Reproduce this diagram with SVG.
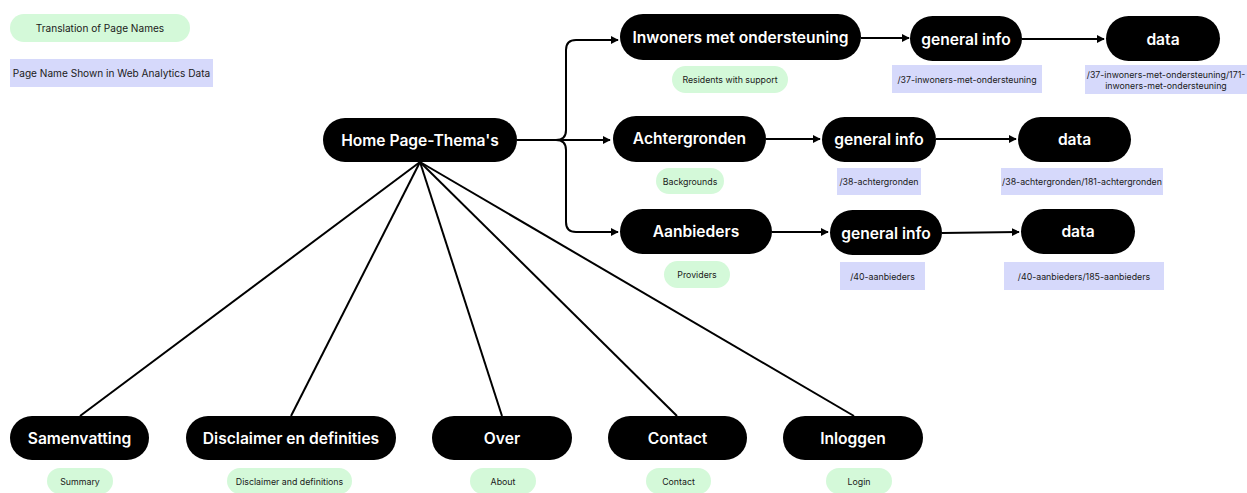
<svg xmlns="http://www.w3.org/2000/svg" width="1247" height="493" viewBox="0 0 1247 493">
<style>
.n rect{fill:#000}
.n text{fill:#fff;font-family:Inter,"DejaVu Sans",sans-serif;font-weight:600;font-size:15.6px;text-anchor:middle;dominant-baseline:central}
.g{fill:#d4f9d9}
.p{fill:#d6d9fb}
.s{fill:#1a1a1a;font-family:Inter,"DejaVu Sans",sans-serif;font-size:8.8px;text-anchor:middle;dominant-baseline:central}
.l{font-size:10.1px}
.c path,.c line{stroke:#000;stroke-width:2;fill:none}
</style>
<defs>
<marker id="a" viewBox="0 0 10 10" refX="9" refY="5" markerWidth="4" markerHeight="4" orient="auto" markerUnits="strokeWidth">
<path d="M0,0 L10,5 L0,10 z" fill="#000"/>
</marker>
</defs>
<rect width="1247" height="493" fill="#fff"/>
<g id="legend">
<rect class="g" x="10" y="14" width="180" height="28" rx="14"/>
<text class="s l" x="100" y="28">Translation of Page Names</text>
<rect class="p" x="10" y="59" width="203" height="28"/>
<text class="s l" x="111.5" y="73">Page Name Shown in Web Analytics Data</text>
</g>
<g class="c" id="connectors">
<path d="M517,140 H556 Q566,140 566,130 V50 Q566,40 576,40 H618" marker-end="url(#a)"/>
<path d="M517,140 H610" marker-end="url(#a)"/>
<path d="M556,140 Q566,140 566,150 V222 Q566,232 576,232 H618" marker-end="url(#a)"/>
<path d="M861,38 H909" marker-end="url(#a)"/>
<path d="M1022,39 H1104" marker-end="url(#a)"/>
<path d="M766,139 H820" marker-end="url(#a)"/>
<path d="M936,139 H1016" marker-end="url(#a)"/>
<path d="M772,232 H828" marker-end="url(#a)"/>
<path d="M942,233 L1019,232" marker-end="url(#a)"/>
<line x1="420" y1="162" x2="80" y2="416"/>
<line x1="420" y1="162" x2="291" y2="416"/>
<line x1="420" y1="162" x2="502" y2="416"/>
<line x1="420" y1="162" x2="677" y2="416"/>
<line x1="420" y1="162" x2="854" y2="416"/>
</g>
<g id="home" class="n"><rect x="323" y="118" width="194" height="44" rx="22"/><text x="420" y="140">Home Page-Thema's</text></g>
<g id="inwoners" class="n"><rect x="620" y="14" width="241" height="46" rx="23"/><text x="740.5" y="37">Inwoners met ondersteuning</text></g>
<g id="inwoners-label"><rect class="g" x="672" y="66" width="116" height="27" rx="13.5"/><text class="s" x="730" y="79.5">Residents with support</text></g>
<g id="inwoners-info" class="n"><rect x="910" y="16" width="112" height="45" rx="22.5"/><text x="966" y="39">general info</text></g>
<g id="inwoners-info-label"><rect class="p" x="892" y="65" width="150" height="28"/><text class="s" x="967" y="79">/37-inwoners-met-ondersteuning</text></g>
<g id="inwoners-data" class="n"><rect x="1106" y="16" width="114" height="45" rx="22.5"/><text x="1163" y="39">data</text></g>
<g id="inwoners-data-label"><rect class="p" x="1085" y="65" width="162" height="29"/><text class="s" x="1166" y="74">/37-inwoners-met-ondersteuning/171-</text><text class="s" x="1166" y="85">inwoners-met-ondersteuning</text></g>
<g id="achter" class="n"><rect x="613" y="116" width="153" height="46" rx="23"/><text x="689.5" y="138">Achtergronden</text></g>
<g id="achter-label"><rect class="g" x="656" y="168" width="68" height="26" rx="13"/><text class="s" x="690" y="181">Backgrounds</text></g>
<g id="achter-info" class="n"><rect x="822" y="117" width="114" height="45" rx="22.5"/><text x="879" y="139">general info</text></g>
<g id="achter-info-label"><rect class="p" x="837" y="168" width="84" height="27"/><text class="s" x="879" y="181.5">/38-achtergronden</text></g>
<g id="achter-data" class="n"><rect x="1018" y="117" width="113" height="45" rx="22.5"/><text x="1074.5" y="139">data</text></g>
<g id="achter-data-label"><rect class="p" x="1001" y="168" width="162" height="27"/><text class="s" x="1082" y="181.5">/38-achtergronden/181-achtergronden</text></g>
<g id="aanb" class="n"><rect x="620" y="209" width="152" height="45" rx="22.5"/><text x="696" y="231">Aanbieders</text></g>
<g id="aanb-label"><rect class="g" x="664" y="261" width="66" height="27" rx="13.5"/><text class="s" x="697" y="274.5">Providers</text></g>
<g id="aanb-info" class="n"><rect x="830" y="210" width="112" height="45" rx="22.5"/><text x="886" y="233">general info</text></g>
<g id="aanb-info-label"><rect class="p" x="840" y="262" width="85" height="28"/><text class="s" x="882.5" y="276">/40-aanbieders</text></g>
<g id="aanb-data" class="n"><rect x="1021" y="209" width="114" height="45" rx="22.5"/><text x="1078" y="231">data</text></g>
<g id="aanb-data-label"><rect class="p" x="1004" y="262" width="160" height="28"/><text class="s" x="1084" y="276">/40-aanbieders/185-aanbieders</text></g>
<g id="samen" class="n"><rect x="10" y="416" width="139" height="44" rx="22"/><text x="79.5" y="438">Samenvatting</text></g>
<g id="samen-label"><rect class="g" x="47" y="468" width="66" height="26" rx="13"/><text class="s" x="80" y="481">Summary</text></g>
<g id="discl" class="n"><rect x="186" y="416" width="210" height="44" rx="22"/><text x="291" y="438">Disclaimer en definities</text></g>
<g id="discl-label"><rect class="g" x="227" y="468" width="125" height="26" rx="13"/><text class="s" x="289.5" y="481">Disclaimer and definitions</text></g>
<g id="over" class="n"><rect x="432" y="416" width="140" height="44" rx="22"/><text x="502" y="438">Over</text></g>
<g id="over-label"><rect class="g" x="470" y="468" width="66" height="26" rx="13"/><text class="s" x="503" y="481">About</text></g>
<g id="contact" class="n"><rect x="608" y="416" width="139" height="44" rx="22"/><text x="677.5" y="438">Contact</text></g>
<g id="contact-label"><rect class="g" x="646" y="468" width="65" height="26" rx="13"/><text class="s" x="678.5" y="481">Contact</text></g>
<g id="inlog" class="n"><rect x="783" y="416" width="140" height="44" rx="22"/><text x="853" y="438">Inloggen</text></g>
<g id="inlog-label"><rect class="g" x="826" y="468" width="66" height="26" rx="13"/><text class="s" x="859" y="481">Login</text></g>
</svg>
